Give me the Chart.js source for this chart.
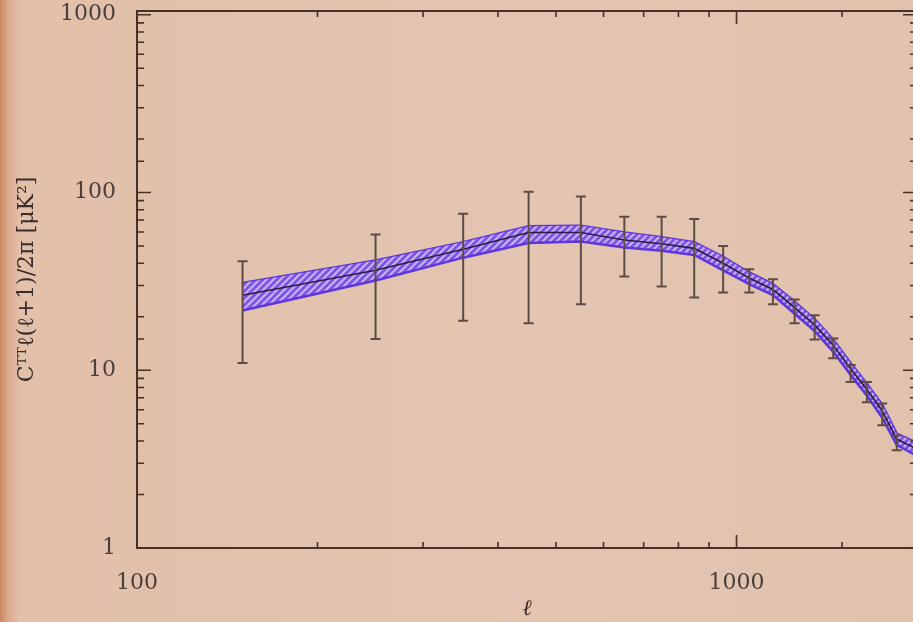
<!DOCTYPE html>
<html>
<head>
<meta charset="utf-8">
<script src="https://cdn.jsdelivr.net/npm/chart.js@4.4.1/dist/chart.umd.min.js"></script>
<style>
  html, body { margin: 0; padding: 0; overflow: hidden; }
  body {
    width: 913px; height: 622px;
    background: linear-gradient(to right, #cf8664 0px, #dba98e 8px, #e2c0aa 20px, #e3c5b1 60%, #e0c2ad 100%);
  }
  #wrap { position: absolute; left: 0; top: 0; width: 921px; height: 622px; }
  #myChart { filter: blur(0.4px); }
</style>
</head>
<body>
<div id="wrap"><canvas id="myChart"></canvas></div>
<script>
// model band (multipole l, central curve and its upper / lower edge)
const bandEll = [150, 250, 350, 450, 550, 650, 750, 850, 950, 1050, 1150, 1250, 1350, 1450, 1550, 1650, 1750, 1850, 2000];
const bandMid = [26.4, 36.5, 48, 59.6, 59.6, 54, 51.5, 48.5, 40, 33, 28.5, 22.5, 18, 13.8, 10.2, 7.8, 5.9, 4.1, 3.6];
const bandHi = [31, 41.5, 52.5, 64.5, 65, 59.5, 56, 52.5, 43.5, 35.5, 30.5, 24.3, 19.4, 14.9, 11.0, 8.4, 6.4, 4.4, 3.9];
const bandLo = [21.7, 32, 43, 52, 53, 49, 47, 44.5, 36.5, 30.5, 26.5, 20.8, 16.6, 12.7, 9.4, 7.2, 5.4, 3.8, 3.3];

// measured band powers: only the error bars are drawn
const barEll = [150, 250, 350, 450, 550, 650, 750, 850, 950, 1050, 1150, 1250, 1350, 1450, 1550, 1650, 1750, 1850];
const barHi = [41, 58, 76, 101, 95, 73, 73, 71, 50, 37, 32.5, 25, 20.4, 15.1, 10.7, 8.6, 6.5, 4.3];
const barLo = [11, 15, 19, 18.4, 23.5, 33.7, 29.6, 25.7, 27.4, 27.4, 23.5, 18.4, 14.9, 11.7, 8.6, 6.6, 4.9, 3.55];

const xTickLabels = ['100', '1000'];
const yTickLabels = ['1', '10', '100', '1000'];

function makeHatch() {
  let c = document.createElement('canvas');
  c.width = 7;
  c.height = 7;
  let g = c.getContext('2d');
  g.fillStyle = '#7f56e4';
  g.fillRect(0, 0, 7, 7);
  g.strokeStyle = '#c7b3f3';
  g.lineWidth = 2;
  g.beginPath();
  g.moveTo(0, 7); g.lineTo(7, 0);
  g.moveTo(-2, 2); g.lineTo(2, -2);
  g.moveTo(5, 9); g.lineTo(9, 5);
  g.stroke();
  return g.createPattern(c, 'repeat');
}

function isDecade(v) {
  let l = Math.log10(v);
  return Math.abs(l - Math.round(l)) < 1e-6;
}

function noPadding(s) {
  s.paddingTop = 0;
  s.paddingBottom = 0;
  s.paddingLeft = 0;
  s.paddingRight = 0;
}

// error bars, drawn through the chart scales
const errorBars = {
  id: 'errorBars',
  afterDatasetsDraw(chart) {
    const { ctx, scales } = chart;
    ctx.save();
    ctx.strokeStyle = '#5e4c44';
    ctx.lineWidth = 2;
    barEll.forEach((l, i) => {
      let px = scales.x.getPixelForValue(l);
      let top = scales.y.getPixelForValue(barHi[i]);
      let bot = scales.y.getPixelForValue(barLo[i]);
      ctx.beginPath();
      ctx.moveTo(px, top); ctx.lineTo(px, bot);
      ctx.moveTo(px - 5, top); ctx.lineTo(px + 5, top);
      ctx.moveTo(px - 5, bot); ctx.lineTo(px + 5, bot);
      ctx.stroke();
    });
    ctx.restore();
  },
};

// box frame with inward ticks on all four sides
const frameTicks = {
  id: 'frameTicks',
  afterDraw(chart) {
    const { ctx, chartArea: a, scales } = chart;
    ctx.save();
    ctx.strokeStyle = '#4a3126';
    ctx.lineWidth = 2;
    ctx.strokeRect(a.left, a.top, a.right - a.left, a.bottom - a.top);
    ctx.lineWidth = 1.6;
    ctx.beginPath();
    scales.x.ticks.forEach((t) => {
      let px = scales.x.getPixelForValue(t.value);
      let len = isDecade(t.value) ? 13 : 6;
      ctx.moveTo(px, a.bottom); ctx.lineTo(px, a.bottom - len);
      ctx.moveTo(px, a.top); ctx.lineTo(px, a.top + len);
    });
    scales.y.ticks.forEach((t) => {
      let py = scales.y.getPixelForValue(t.value);
      let len = isDecade(t.value) ? 14 : 7;
      ctx.moveTo(a.left, py); ctx.lineTo(a.left + len, py);
      ctx.moveTo(a.right, py); ctx.lineTo(a.right - len, py);
    });
    ctx.stroke();
    ctx.restore();
  },
};

const hatch = makeHatch();
const ctx = document.getElementById('myChart');
new Chart(ctx, {
  type: 'line',
  data: {
    datasets: [
      {
        label: 'upper',
        data: bandEll.map((l, i) => ({ x: l, y: bandHi[i] })),
        borderColor: '#5f36da',
        borderWidth: 2.5,
        pointRadius: 0,
        fill: false,
        order: 2,
      },
      {
        label: 'lower',
        data: bandEll.map((l, i) => ({ x: l, y: bandLo[i] })),
        borderColor: '#5f36da',
        borderWidth: 2.5,
        pointRadius: 0,
        fill: '-1',
        backgroundColor: hatch,
        order: 1,
      },
      {
        label: 'model',
        data: bandEll.map((l, i) => ({ x: l, y: bandMid[i] })),
        borderColor: '#2a1c3e',
        borderWidth: 1.6,
        pointRadius: 0,
        fill: false,
        order: -1,
      },
    ],
  },
  options: {
    responsive: true,
    maintainAspectRatio: false,
    animation: false,
    layout: { padding: { top: 11, right: 4, left: 0, bottom: 0 } },
    plugins: {
      legend: { display: false },
      tooltip: { enabled: false },
    },
    scales: {
      x: {
        type: 'logarithmic',
        min: 100,
        max: 2000,
        afterFit: function (s) { s.height = 74; noPadding(s); },
        grid: { display: false },
        border: { display: false },
        ticks: {
          autoSkip: false,
          maxRotation: 0,
          padding: 14,
          color: '#4a3f3d',
          font: { family: 'DejaVu Serif', size: 22 },
          callback: function (v) {
            return xTickLabels.includes(String(v)) ? String(v) : '';
          },
        },
        title: {
          display: true,
          text: 'ℓ',
          color: '#3a2c2a',
          font: { family: 'DejaVu Serif', style: 'italic', size: 22 },
          padding: { top: 0, bottom: 0 },
        },
      },
      y: {
        type: 'logarithmic',
        min: 1,
        max: 1050,
        afterFit: function (s) { s.width = 137; noPadding(s); },
        grid: { display: false },
        border: { display: false },
        ticks: {
          autoSkip: false,
          padding: 13,
          color: '#4a3f3d',
          font: { family: 'DejaVu Serif', size: 22 },
          callback: function (v) {
            return yTickLabels.includes(String(v)) ? String(v) : '';
          },
        },
        title: {
          display: true,
          text: 'Cᵀᵀℓ(ℓ+1)/2π [μK²]',
          color: '#3a2c2a',
          font: { family: 'DejaVu Serif', size: 22 },
          padding: { top: 14, bottom: 0 },
        },
      },
    },
  },
  plugins: [errorBars, frameTicks],
});
</script>
</body>
</html>
